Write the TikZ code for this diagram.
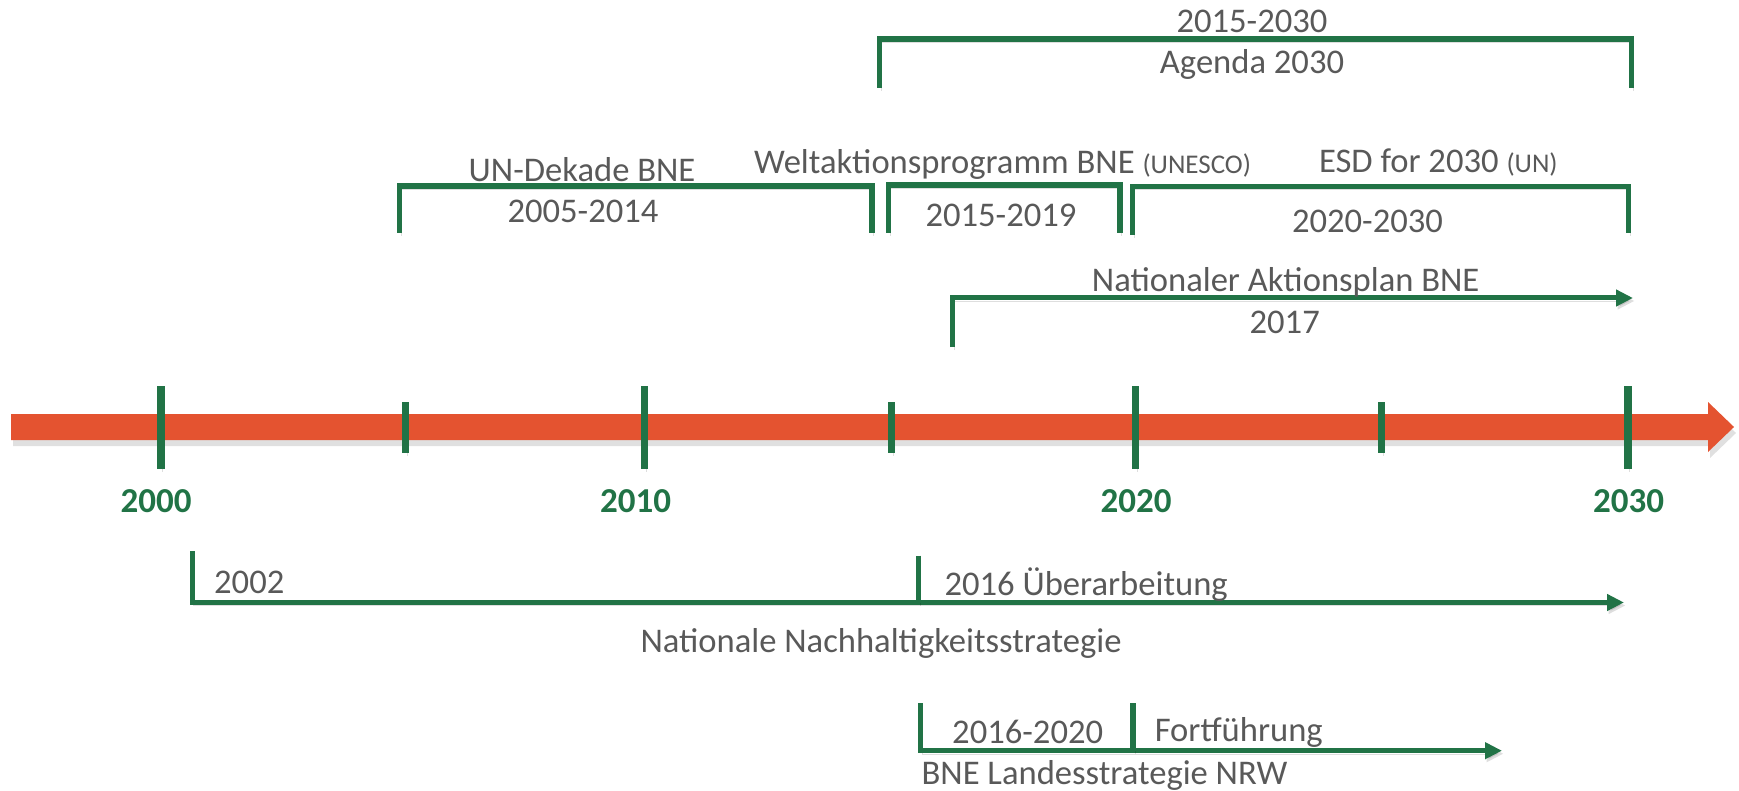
\documentclass[tikz,border=0pt]{standalone}
\usepackage{fontspec}
\setmainfont{Carlito}
\usetikzlibrary{arrows.meta}
\definecolor{tlgreen}{RGB}{33,115,70}
\definecolor{tlorange}{RGB}{228,83,48}
\definecolor{tlgray}{RGB}{89,89,89}
\tikzset{
  shad/.style={preaction={draw=black,opacity=0.13,transform canvas={shift={(1.5pt,-3pt)}}}},
  bracketline/.style={draw=tlgreen,line width=5.5pt,shad},
  arrowline/.style={draw=tlgreen,line width=5pt,shad,-{Triangle[length=17pt,width=16pt]}},
  majortick/.style={draw=tlgreen,line width=7.7pt,shad},
  minortick/.style={draw=tlgreen,line width=7.2pt,shad},
  lbl/.style={inner sep=0pt,text=tlgray,font=\fontsize{34.6}{40}\selectfont},
  yearlbl/.style={inner sep=0pt,text=tlgreen,font=\fontsize{35}{42}\selectfont\bfseries,anchor=base},
}
\newcommand{\smallpar}[1]{{\fontsize{27}{30}\selectfont #1}}
\begin{document}
\begin{tikzpicture}[x=1pt,y=-1pt]
\useasboundingbox (0,0) rectangle (1739,791);
% timeline arrow
\coordinate (tlL) at (11,427);
\coordinate (tlR) at (1734,427);
\fill[black,opacity=0.12] (13,420) -- (1710,420) -- (1710,408) -- (1736,433) -- (1710,458) -- (1710,446) -- (13,446) -- cycle;
\fill[tlorange] (11,414) -- (1708,414) -- (1708,402) -- (tlR) -- (1708,452) -- (1708,440) -- (11,440) -- cycle;
% ticks
\foreach \xx/\nm in {160.7/a,644.5/b,1135.6/c,1628/d}{
  \coordinate (t\nm1) at (\xx,386);
  \coordinate (t\nm2) at (\xx,469);
  \draw[majortick] (t\nm1) -- (t\nm2);
}
\foreach \xx/\nm in {405.3/e,891.6/f,1381.8/g}{
  \coordinate (t\nm1) at (\xx,402);
  \coordinate (t\nm2) at (\xx,453);
  \draw[minortick] (t\nm1) -- (t\nm2);
}
% year labels
\node[yearlbl] (y2000) at (156,512.7) {2000};
\node[yearlbl] (y2010) at (635.5,512.7) {2010};
\node[yearlbl] (y2020) at (1136,512.7) {2020};
\node[yearlbl] (y2030) at (1628.6,512.7) {2030};
% Agenda 2030
\coordinate (ag1) at (879.5,88);
\coordinate (ag2) at (879.5,39);
\coordinate (ag3) at (1631.5,39);
\coordinate (ag4) at (1631.5,88);
\draw[bracketline] (ag1) -- (ag2) -- (ag3) -- (ag4);
\node[lbl,anchor=base] (agY) at (1252,33) {2015-2030};
\node[lbl,anchor=base] (agT) at (1252,74) {Agenda 2030};
% UN-Dekade
\coordinate (un1) at (399.4,233);
\coordinate (un2) at (399.4,186);
\coordinate (un3) at (872,186);
\coordinate (un4) at (872,233);
\draw[bracketline] (un1) -- (un2) -- (un3) -- (un4);
\node[lbl,anchor=base] (unT) at (582,182) {UN-Dekade BNE};
\node[lbl,anchor=base] (unY) at (583,223) {2005-2014};
% Weltaktionsprogramm
\coordinate (wa1) at (888.7,233);
\coordinate (wa2) at (888.7,185);
\coordinate (wa3) at (1119.8,185);
\coordinate (wa4) at (1119.8,233);
\draw[bracketline] (wa1) -- (wa2) -- (wa3) -- (wa4);
\node[lbl,anchor=base west] (waT) at (754,174) {Weltaktionsprogramm BNE \smallpar{(UNESCO)}};
\node[lbl,anchor=base] (waY) at (1001,227) {2015-2019};
% ESD for 2030
\coordinate (es1) at (1132.6,235);
\coordinate (es2) at (1132.6,186.5);
\coordinate (es3) at (1628.5,186.5);
\coordinate (es4) at (1628.5,233);
\draw[bracketline] (es1) -- (es2) -- (es3) -- (es4);
\node[lbl,anchor=base west] (esT) at (1318.8,173) {ESD for 2030 \smallpar{(UN)}};
\node[lbl,anchor=base] (esY) at (1367.5,233) {2020-2030};
% Nationaler Aktionsplan
\coordinate (na1) at (952.6,347);
\coordinate (na2) at (952.6,298);
\coordinate (na3) at (1633,298);
\draw[arrowline] (na1) -- (na2) -- (na3);
\node[lbl,anchor=base] (naT) at (1285.7,291.7) {Nationaler Aktionsplan BNE};
\node[lbl,anchor=base] (naY) at (1284.7,333.3) {2017};
% Nationale Nachhaltigkeitsstrategie
\coordinate (nn1) at (192,551);
\coordinate (nn2) at (192,602.5);
\coordinate (nn3) at (1624,602.5);
\coordinate (nm1) at (918.5,555.7);
\coordinate (nm2) at (918.5,602.5);
\draw[arrowline] (nn1) -- (nn2) -- (nn3);
\draw[bracketline] (nm1) -- (nm2);
\node[lbl,anchor=base west] (nnY) at (214,593) {2002};
\node[lbl,anchor=base west] (nnU) at (944.4,595) {2016 Überarbeitung};
\node[lbl,anchor=base] (nnT) at (881,652) {Nationale Nachhaltigkeitsstrategie};
% BNE Landesstrategie NRW
\coordinate (nr1) at (920.4,703.3);
\coordinate (nr2) at (920.4,750.7);
\coordinate (nr3) at (1502,750.7);
\coordinate (rm1) at (1133.2,703.3);
\coordinate (rm2) at (1133.2,750.7);
\draw[arrowline] (nr1) -- (nr2) -- (nr3);
\draw[bracketline] (rm1) -- (rm2);
\node[lbl,anchor=base west] (nrY) at (952,743) {2016-2020};
\node[lbl,anchor=base west] (nrF) at (1154.6,741.7) {Fortführung};
\node[lbl,anchor=base west] (nrT) at (921.4,784.5) {BNE Landesstrategie NRW};
\end{tikzpicture}
\end{document}
